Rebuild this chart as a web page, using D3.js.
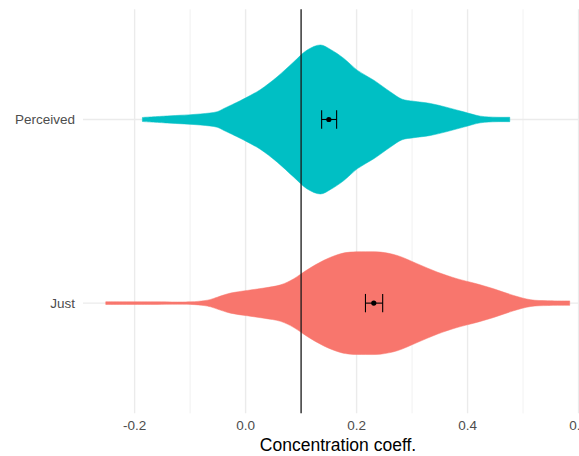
<!DOCTYPE html>
<html>
<head>
<meta charset="utf-8">
<script src="https://cdn.jsdelivr.net/npm/d3@7"></script>
<style>
  html, body { margin: 0; padding: 0; background: #ffffff; }
  svg { display: block; }
</style>
</head>
<body>
<svg id="chart" width="579" height="456"></svg>
<script>
// Groups, top to bottom
const groups = ["Perceived", "Just"];
const groupColors = ["#00BFC4", "#F8766D"];

// Kernel density outline of each group: positions along x and density values
const perceivedX = [-0.186, -0.141, -0.081, -0.051, -0.039, -0.009, 0.009, 0.027, 0.057, 0.087,
                    0.111, 0.135, 0.153, 0.177, 0.201, 0.231, 0.261, 0.282, 0.303, 0.333,
                    0.363, 0.393, 0.423, 0.453, 0.476];
const perceivedDensity = [0.11, 0.19, 0.30, 0.42, 0.59, 1.02, 1.30, 1.61, 2.29, 3.10,
                          3.73, 4.00, 3.76, 3.28, 2.65, 2.11, 1.48, 1.09, 0.98, 0.86,
                          0.65, 0.41, 0.18, 0.12, 0.12];

const justX = [-0.252, -0.171, -0.099, -0.075, -0.063, -0.051, -0.027, 0.003, 0.033, 0.063,
               0.087, 0.111, 0.141, 0.171, 0.189, 0.216, 0.243, 0.273, 0.309, 0.345,
               0.381, 0.411, 0.447, 0.483, 0.514, 0.544, 0.584];
const justDensity = [0.075, 0.07, 0.07, 0.13, 0.20, 0.32, 0.54, 0.68, 0.81, 0.98,
                     1.31, 1.79, 2.30, 2.65, 2.74, 2.76, 2.74, 2.56, 2.12, 1.67,
                     1.31, 1.08, 0.77, 0.41, 0.18, 0.13, 0.12];

// Mean and confidence interval per group
const means = [0.150, 0.231];
const ciLow = [0.137, 0.216];
const ciHigh = [0.164, 0.247];

// Reference value
const refValue = 0.1;

// Axis ticks
const majorTicks = [-0.2, 0.0, 0.2, 0.4, 0.6];
const minorTicks = [-0.1, 0.1, 0.3, 0.5];
const xTitle = "Concentration coeff.";

const svg = d3.select("#chart");
const panel = { left: 83, right: 593, top: 9.3, bottom: 413.3 };

const x = d3.scaleLinear().domain([-0.293, 0.626]).range([panel.left, panel.right]);
const y = d3.scalePoint().domain(groups).range([panel.top, panel.bottom]).padding(0.6);
const bandUnit = y.step();
// density -> half thickness of a violin, in pixels
const w = d3.scaleLinear().domain([0, 4.0]).range([0, 74.5]);

const fontFamily = "'Liberation Sans', Arial, Helvetica, sans-serif";

// Grid
const grid = svg.append("g");
grid.selectAll("line.minor").data(minorTicks).join("line")
  .attr("x1", d => x(d)).attr("x2", d => x(d))
  .attr("y1", panel.top).attr("y2", panel.bottom)
  .attr("stroke", "#ededed").attr("stroke-width", 0.8);
grid.selectAll("line.major").data(majorTicks).join("line")
  .attr("x1", d => x(d)).attr("x2", d => x(d))
  .attr("y1", panel.top).attr("y2", panel.bottom)
  .attr("stroke", "#ebebeb").attr("stroke-width", 1.4);
grid.selectAll("line.hmajor").data(groups).join("line")
  .attr("x1", panel.left).attr("x2", panel.right)
  .attr("y1", d => y(d)).attr("y2", d => y(d))
  .attr("stroke", "#ebebeb").attr("stroke-width", 1.4);

// Violins
const outlines = [
  perceivedX.map((v, i) => [v, perceivedDensity[i]]),
  justX.map((v, i) => [v, justDensity[i]])
];
groups.forEach((g, gi) => {
  const cy = y(g);
  const area = d3.area()
    .x(d => x(d[0]))
    .y0(d => cy - w(d[1]))
    .y1(d => cy + w(d[1]))
    .curve(d3.curveCatmullRom.alpha(0.5));
  svg.append("path")
    .datum(outlines[gi])
    .attr("d", area)
    .attr("fill", groupColors[gi])
    .attr("stroke", groupColors[gi])
    .attr("stroke-width", 0.5);
});

// Reference line
svg.append("line")
  .attr("x1", x(refValue)).attr("x2", x(refValue))
  .attr("y1", panel.top).attr("y2", panel.bottom)
  .attr("stroke", "#1a1a1a").attr("stroke-width", 1.3);

// Error bars and means
const capHalf = bandUnit * 0.05;
groups.forEach((g, gi) => {
  const cy = y(g);
  const eb = svg.append("g").attr("stroke", "#000").attr("stroke-width", 1.1);
  eb.append("line").attr("x1", x(ciLow[gi])).attr("x2", x(ciHigh[gi])).attr("y1", cy).attr("y2", cy);
  eb.append("line").attr("x1", x(ciLow[gi])).attr("x2", x(ciLow[gi])).attr("y1", cy - capHalf).attr("y2", cy + capHalf);
  eb.append("line").attr("x1", x(ciHigh[gi])).attr("x2", x(ciHigh[gi])).attr("y1", cy - capHalf).attr("y2", cy + capHalf);
  svg.append("circle").attr("cx", x(means[gi])).attr("cy", cy).attr("r", 2.6).attr("fill", "#000");
});

// X axis labels (plain hyphen for negatives)
svg.append("g").selectAll("text").data(majorTicks).join("text")
  .attr("x", d => x(d)).attr("y", 430)
  .attr("text-anchor", "middle")
  .attr("font-family", fontFamily).attr("font-size", 13.5)
  .attr("fill", "#4d4d4d")
  .text(d => d.toFixed(1));

// Y axis labels
svg.append("g").selectAll("text").data(groups).join("text")
  .attr("x", 75).attr("y", d => y(d))
  .attr("dy", "0.36em")
  .attr("text-anchor", "end")
  .attr("font-family", fontFamily).attr("font-size", 13.5)
  .attr("fill", "#4d4d4d")
  .text(d => d);

// X axis title
svg.append("text")
  .attr("x", (panel.left + panel.right) / 2).attr("y", 451)
  .attr("text-anchor", "middle")
  .attr("font-family", fontFamily).attr("font-size", 17.5)
  .attr("fill", "#000")
  .text(xTitle);
</script>
</body>
</html>
